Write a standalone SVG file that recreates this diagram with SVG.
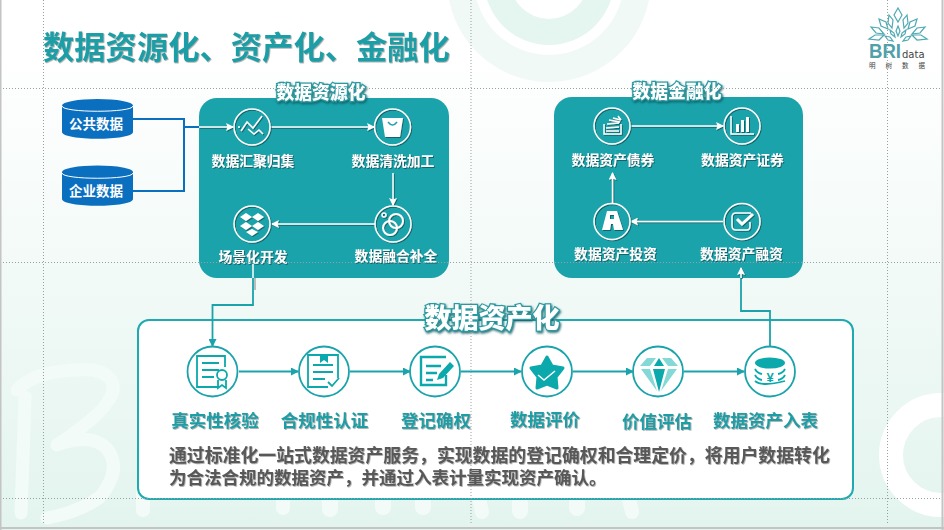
<svg xmlns="http://www.w3.org/2000/svg" width="944" height="530" viewBox="0 0 944 530">
<defs>
<linearGradient id="bg" x1="0" y1="0" x2="0" y2="1"><stop offset="0.1" stop-color="#ffffff"/><stop offset="1" stop-color="#e3f4ee"/></linearGradient>
<filter id="sh" filterUnits="userSpaceOnUse" x="0" y="0" width="944" height="530"><feDropShadow dx="1" dy="1" stdDeviation="0.7" flood-color="#0b4f55" flood-opacity="0.75"/></filter>
<filter id="gl" filterUnits="userSpaceOnUse" x="0" y="0" width="944" height="530"><feDropShadow dx="1" dy="1.500" stdDeviation="0.8" flood-color="#0b5a60" flood-opacity="0.9"/></filter>
<filter id="gs" filterUnits="userSpaceOnUse" x="0" y="0" width="944" height="530"><feDropShadow dx="0.800" dy="0.800" stdDeviation="0.5" flood-color="#555" flood-opacity="0.55"/></filter>
<marker id="aw" markerWidth="8" markerHeight="8" refX="7" refY="4" orient="auto" markerUnits="userSpaceOnUse"><path d="M0 0L8 4L0 8L1.500 4Z" fill="#fff"/></marker>
<marker id="at" markerWidth="8" markerHeight="8" refX="7" refY="4" orient="auto" markerUnits="userSpaceOnUse"><path d="M0 0L8 4L0 8Z" fill="#1aa3ab"/></marker>
</defs>
<style>
text{font-family:"Noto Sans CJK SC","Liberation Sans",sans-serif;text-anchor:middle}
.wt{font-size:13.800px;font-weight:700;fill:#fff;filter:url(#sh)}
.hd{font-size:17.800px;font-weight:900;fill:#fff;stroke:#2a9aa0;stroke-width:2.500px;paint-order:stroke;filter:url(#gl)}
.tl{font-size:17.500px;font-weight:700;fill:#1f9ea6;filter:url(#gs)}
.ds{font-size:13.500px;font-weight:700;fill:#fff}
.ic{fill:none;stroke:#fff;stroke-width:1.500}
.it{fill:#fff;stroke:none}
.cw{fill:none;stroke:#fff;stroke-width:1.500}
.cc{fill:#fff;stroke:#1aa3ab;stroke-width:1.800}
.ti{fill:none;stroke:#0ba9ab;stroke-width:1.800}
.tf{fill:#0ba9ab;stroke:none}
.lt{fill:#84d8d6;stroke:none}
.guide{stroke:#9aa0a0;stroke-width:1;stroke-dasharray:1 2;fill:none}
.conn{fill:none;stroke:#1aa3ab;stroke-width:1.800}
.wm{fill:none;stroke:#f3fbf9;stroke-width:13;stroke-linecap:round;stroke-linejoin:round}
</style>
<rect width="944" height="530" fill="url(#bg)"/>
<g id="background">
<circle cx="549" cy="-20" r="102" fill="#f1f9f6"/>
<circle cx="549" cy="-20" r="75" fill="#ffffff"/>
<circle cx="549" cy="-20" r="65" fill="#e5f5f0"/>
<circle cx="549" cy="-20" r="39" fill="#ffffff"/>
<circle cx="941" cy="455" r="50" fill="none" stroke="#fff" stroke-width="24"/>
<path class="wm" d="M25 397L21 513M17 390Q37 368 93 370Q115 375 113 390Q110 410 57 445Q93 432 108 450Q122 470 100 497Q80 512 47 518"/>
<path class="wm" style="stroke-width:16" d="M330 490V509M383 490V507M423 490V507M520 490V511M577 490V508"/>
<path class="wm" style="stroke-width:14" d="M143 490V510M283 490V508M477 490L482 512M627 490L632 512"/>
</g>
<text class="tl" style="font-size:31.300px;text-anchor:start" x="43" y="58.500">数据资源化、资产化、金融化</text>
<g id="logo">
<g fill="none" stroke="#4fa9b2" stroke-width="1.200">
<path d="M898 8l4 7-4 7-4-7z"/><path d="M889 15l4 5-1 8-4-5z"/><path d="M907 15l-4 5 1 8 4-5z"/><path d="M879 19l7 3 2 7-7-3z"/><path d="M917 19l-7 3-2 7 7-3z"/><path d="M871 27l8 1 5 6-8-1z"/><path d="M925 27l-8 1-5 6 8-1z"/><path d="M869 39l6-4 9 0-5 5z"/><path d="M927 39l-6-4-9 0 5 5z"/><path d="M885 36l5 1 3 4-5-1z"/><path d="M911 36l-5 1-3 4 5-1z"/><path d="M898 26l2 5-2 5-2-5z"/><path d="M890 30l4 3 1 4-4-3z"/><path d="M906 30l-4 3-1 4 4-3z"/>
</g>
<text x="869" y="58" textLength="32" lengthAdjust="spacingAndGlyphs" style="text-anchor:start;font-family:'Liberation Sans',sans-serif;font-size:21px;font-weight:700;fill:#4fa0ab">BRI</text>
<text x="902" y="58" style="text-anchor:start;font-family:'DejaVu Sans',sans-serif;font-size:10px;fill:#444">data</text>
<text x="869" y="68" style="text-anchor:start;font-size:6.500px;letter-spacing:10px;fill:#444">明树数据</text>
</g>
<g id="connectors-top">
<path d="M133 119H184V191H133M184 127H199" fill="none" stroke="#0b6fc0" stroke-width="2"/>
</g>
<g id="db-public"><path d="M62 106V132C62 141 133 141 133 132V106Z" fill="#0b6fc0"/><ellipse cx="97.500" cy="105.500" rx="35.500" ry="6.500" fill="#0b6fc0"/><path d="M62 106C62 113 133 113 133 106" fill="none" stroke="#fff" stroke-width="1"/><text class="ds" x="96" y="129">公共数据</text></g>
<g id="db-enterprise"><path d="M62 172V199C62 208 133 208 133 199V172Z" fill="#0b6fc0"/><ellipse cx="97.500" cy="172" rx="35.500" ry="6.500" fill="#0b6fc0"/><path d="M62 173C62 180 133 180 133 173" fill="none" stroke="#fff" stroke-width="1"/><text class="ds" x="96" y="196">企业数据</text></g>
<g id="panel-left"><rect x="199" y="98" width="250" height="180" rx="18" fill="#1aa3ab"/></g>
<g id="panel-right"><rect x="554" y="97" width="249" height="181" rx="18" fill="#1aa3ab"/></g>
<g id="panel-bottom"><rect x="138" y="320" width="715" height="179" rx="11" fill="#fff" stroke="#1fa9b0" stroke-width="2"/></g>
<g id="connectors">
<g filter="url(#sh)">
<path class="cw" marker-end="url(#aw)" d="M199 127H233"/>
<path class="cw" marker-end="url(#aw)" d="M270 127H374"/>
<path class="cw" marker-end="url(#aw)" d="M393 173V205"/>
<path class="cw" marker-end="url(#aw)" d="M375 224H272"/>
<path class="cw" marker-end="url(#aw)" d="M631 126H723"/>
<path class="cw" marker-end="url(#aw)" d="M723 221.500H631"/>
<path class="cw" marker-end="url(#aw)" d="M612.500 203V173"/>
</g>
<path d="M255 278V290" stroke="#aaa" stroke-width="1.500" fill="none"/>
<path class="conn" marker-end="url(#at)" d="M253 278V305H212.500V346"/>
<path d="M253 264V278" stroke="#fff" stroke-width="1.500" fill="none"/>
<path class="conn" marker-end="url(#at)" d="M239 371.500H298"/>
<path class="conn" marker-end="url(#at)" d="M350 371.500H410"/>
<path class="conn" marker-end="url(#at)" d="M461 371.500H521"/>
<path class="conn" marker-end="url(#at)" d="M573 371.500H633"/>
<path class="conn" marker-end="url(#at)" d="M684 371.500H744"/>
<path class="conn" d="M770 346V311H741V278"/>
<path class="cw" filter="url(#sh)" marker-end="url(#aw)" d="M741 278V268"/>
</g>
<g filter="url(#sh)">
<g id="n-gather"><circle class="cw" cx="252" cy="127" r="18"/><path class="ic" d="M241 131L247 122L253 128L262 116M248 129L254 134L259 130L263 134"/><circle class="it" cx="239" cy="127" r="1"/></g>
<g id="n-clean"><circle class="cw" cx="392.500" cy="127" r="18"/><path class="it" d="M382 118H403L400 137H385Z"/><path d="M388 122q4.500 6 9 0" fill="none" stroke="#1aa3ab" stroke-width="1.500"/></g>
<g id="n-merge"><circle class="cw" cx="393" cy="224" r="18"/><circle class="ic" cx="396" cy="221" r="7" style="stroke-width:2"/><circle class="ic" cx="390" cy="228" r="7" style="stroke-width:2"/><circle class="ic" cx="384" cy="215" r="2"/></g>
<g id="n-scene"><circle class="cw" cx="252" cy="224" r="18"/><path class="it" d="M246 213l6 4-6 4-6-4zM258 213l6 4-6 4-6-4zM246 222l6 4-6 4-6-4zM258 222l6 4-6 4-6-4zM252 229l6 3-6 4-6-4z"/></g>
<g id="n-debt"><circle class="cw" cx="612" cy="126" r="18"/><path class="ic" d="M604 124V134H621V124M606 131H619M606 128L619 127M607 124L619 123M609 120L620 122M613 118L621 120M618 116L621 120"/></g>
<g id="n-security"><circle class="cw" cx="742" cy="126" r="18"/><path class="ic" d="M731 116V134H754"/><path class="it" d="M736 124h3v8h-3zM741 120h3v12h-3zM746 117h3v15h-3z"/></g>
<g id="n-invest"><circle class="cw" cx="612" cy="221.500" r="18"/><path class="it" d="M607 211H617L623 230H614L613 224H611L610 230H602ZM610 215V219H614V215Z"/></g>
<g id="n-finance"><circle class="cw" cx="742" cy="221.500" r="18"/><path class="ic" d="M751 213H736Q732 213 732 217V226Q732 230 736 230H747Q750 230 750 226V222"/><path d="M737 219l5 5 11-10" fill="none" stroke="#fff" stroke-width="3"/></g>
</g>
<text class="wt" x="253" y="166">数据汇聚归集</text>
<text class="wt" x="393" y="166">数据清洗加工</text>
<text class="wt" x="396" y="261">数据融合补全</text>
<text class="wt" x="253" y="262">场景化开发</text>
<text class="wt" x="613" y="165">数据资产债券</text>
<text class="wt" x="742.500" y="165">数据资产证券</text>
<text class="wt" x="615.500" y="259">数据资产投资</text>
<text class="wt" x="741.500" y="259">数据资产融资</text>
<text class="hd" x="321" y="99">数据资源化</text>
<text class="hd" x="677" y="98">数据金融化</text>
<text class="hd" style="font-size:27px" x="492" y="328">数据资产化</text>
<g id="s1"><circle class="cc" cx="212.500" cy="371.500" r="25"/><path class="ti" d="M219 387H197V356H225V367M202 363H219M202 370H219M202 377H214"/><circle class="ti" cx="222" cy="375" r="5"/><path class="ti" d="M218 380V388L222 385L226 388V380"/></g>
<g id="s2"><circle class="cc" cx="324" cy="371.500" r="25"/><path class="ti" d="M338 378V355H308V387H328M313 365H333M313 372H333M313 379H325M328 382l4 4 7-8"/><path class="tf" d="M320 355h8v8l-4-3-4 3z"/></g>
<g id="s3"><circle class="cc" cx="435" cy="371.500" r="25"/><path class="ti" d="M446 357H421V385H446V375M426 366H441M426 373H437M426 380H433" style="stroke-width:2.400"/><path class="tf" d="M450 362l4 4-11 12-6 2 2-6z"/></g>
<g id="s4"><circle class="cc" cx="547" cy="371.500" r="25"/><path class="tf" stroke-linejoin="round" style="stroke:#0ba9ab;stroke-width:3" d="M547 357l5 9 11 2-7 9 1 11-10-4-10 4 1-11-7-9 11-2z"/><path d="M538 375l6 5 11-9" fill="none" stroke="#fff" stroke-width="1.500"/></g>
<g id="s5"><circle class="cc" cx="658" cy="371.500" r="25"/><path class="lt" d="M647 358H656L650 366H640ZM671 358H662L668 366H678ZM641 369H650L657 391ZM677 369H668L661 391Z"/><path class="tf" d="M659 358L664 366H654ZM653 369H665L659 392Z"/></g>
<g id="s6"><circle class="cc" cx="770" cy="371.500" r="25"/><ellipse class="tf" cx="770" cy="363" rx="15" ry="5.500"/><path class="ti" d="M755 369Q757 373 762 374M785 369Q783 373 778 374M755 375Q757 379 762 380M785 375Q783 379 778 380M755 381Q762 387 785 381"/><text x="770" y="382" style="font-size:13px;font-weight:700;fill:#0ba9ab;font-family:'Liberation Sans',sans-serif">¥</text></g>
<text class="tl" x="215" y="426.500">真实性核验</text>
<text class="tl" x="324.500" y="426.500">合规性认证</text>
<text class="tl" x="436" y="426.500">登记确权</text>
<text class="tl" x="545" y="425.500">数据评价</text>
<text class="tl" x="657" y="427.500">价值评估</text>
<text class="tl" x="765.500" y="426.500">数据资产入表</text>
<g id="description" style="font-weight:700;fill:#595959" filter="url(#gs)">
<text x="169" y="461.500" style="text-anchor:start;font-size:17.860px">通过标准化一站式数据资产服务，实现数据的登记确权和合理定价，将用户数据转化</text>
<text x="169" y="484" style="text-anchor:start;font-size:17.500px">为合法合规的数据资产，并通过入表计量实现资产确认。</text>
</g>
<g id="guides">
<path class="guide" d="M0 88.500H941M0 262.500H941M0 498.500H941M43.500 0V523M887.500 0V523M471 0V523"/>
</g>
<path d="M0.500 0V530M942.500 0V530M0 528H944" stroke="#c4c4c4" stroke-width="2" fill="none"/>
</svg>
